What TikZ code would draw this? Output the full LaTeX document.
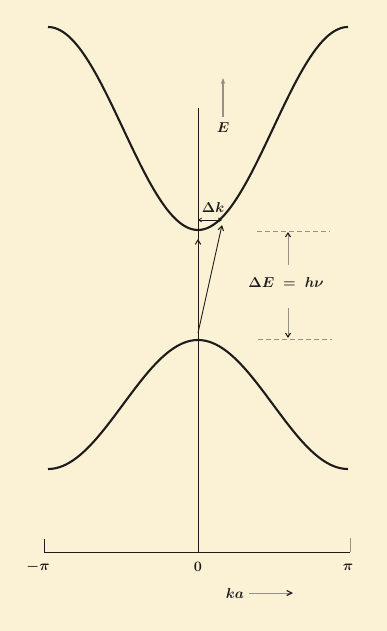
\documentclass[tikz,border=0pt]{standalone}
\usetikzlibrary{arrows.meta}
\definecolor{paper}{RGB}{251,242,214}
\definecolor{ink}{RGB}{30,28,26}
\definecolor{faint}{RGB}{150,145,135}
\begin{document}
\begin{tikzpicture}[x=1pt,y=-1pt,
  band/.style={line width=2.1pt,ink},
  axisline/.style={line width=0.9pt,ink},
  barb/.style={-{Straight Barb[length=4.5pt,width=5.5pt,line width=1pt]}},
  lbl/.style={font=\fontsize{13.5}{16}\selectfont\boldmath,text=ink,inner sep=0pt},
  guide/.style={faint,line width=0.8pt,dash pattern=on 5pt off 3pt}]
\fill[paper] (0,0) rectangle (387,631);
\useasboundingbox (0,0) rectangle (387,631);
% bands
\draw[band,domain=-pi:pi,samples=120,variable=\t] plot ({198+150*\t/pi},{128.5+101.5*cos(\t r)});
\draw[band,domain=-pi:pi,samples=120,variable=\t] plot ({198+150*\t/pi},{404.5-64.5*cos(\t r)});
% axes
\coordinate (top) at (198,108);
\coordinate (o) at (198,552);
\coordinate (l) at (44,552);
\coordinate (lt) at (44,539);
\coordinate (r) at (350,552);
\coordinate (rt) at (350,538);
\draw[axisline] (lt) -- (l) -- (r);
\draw[axisline] (top) -- (o);
\draw[faint,line width=0.8pt] (r) -- (rt);
\node[lbl] (mpi) at (38,567) {$-\pi$};
\node[lbl] (zero) at (198,567) {$0$};
\node[lbl] (ppi) at (348,567) {$\pi$};
% ka arrow
\node[lbl] (ka) at (235,593) {$ka$};
\coordinate (kaend) at (293,593);
\draw[faint,line width=0.9pt,-{Straight Barb[length=5pt,width=5pt,ink,line width=1.2pt]}] (ka.east) ++(5,0) -- (kaend);
% E arrow
\coordinate (eb) at (223,117);
\coordinate (et) at (223,78);
\draw[faint,line width=1.5pt,-{Stealth[length=6pt,width=4.5pt]}] (eb) -- (et);
\node[lbl] (E) at (223,128) {$E$};
% transitions
\coordinate (vb) at (198,300);
\coordinate (vt) at (198,239);
\draw[axisline,barb] (vb) -- (vt);
\coordinate (sb) at (198,333);
\coordinate (st) at (222,225);
\draw[axisline,barb] (sb) -- (st);
\coordinate (dk1) at (198,220);
\coordinate (dk2) at (222,220);
\draw[line width=0.8pt,ink,{Straight Barb[length=3pt,width=4pt]}-{Straight Barb[length=3pt,width=4pt]}] (dk1) -- (dk2);
\node[lbl] (dk) at (213,207) {$\Delta k$};
% Delta E
\coordinate (u1) at (257,231);
\coordinate (u2) at (330,231);
\coordinate (w1) at (258,339);
\coordinate (w2) at (332,339);
\draw[guide] (u1) -- (u2);
\draw[guide] (w1) -- (w2);
\node[lbl] (dE) at (286,282) {$\Delta E\ =\ h\nu$};
\coordinate (a1) at (288,265);
\coordinate (a1t) at (288,232);
\coordinate (a2) at (288,308);
\coordinate (a2t) at (288,338);
\draw[faint,line width=0.7pt,-{Straight Barb[length=4pt,width=5pt,ink,line width=1.1pt]}] (a1) -- (a1t);
\draw[faint,line width=0.7pt,-{Straight Barb[length=4pt,width=5pt,ink,line width=1.1pt]}] (a2) -- (a2t);
\end{tikzpicture}
\end{document}
